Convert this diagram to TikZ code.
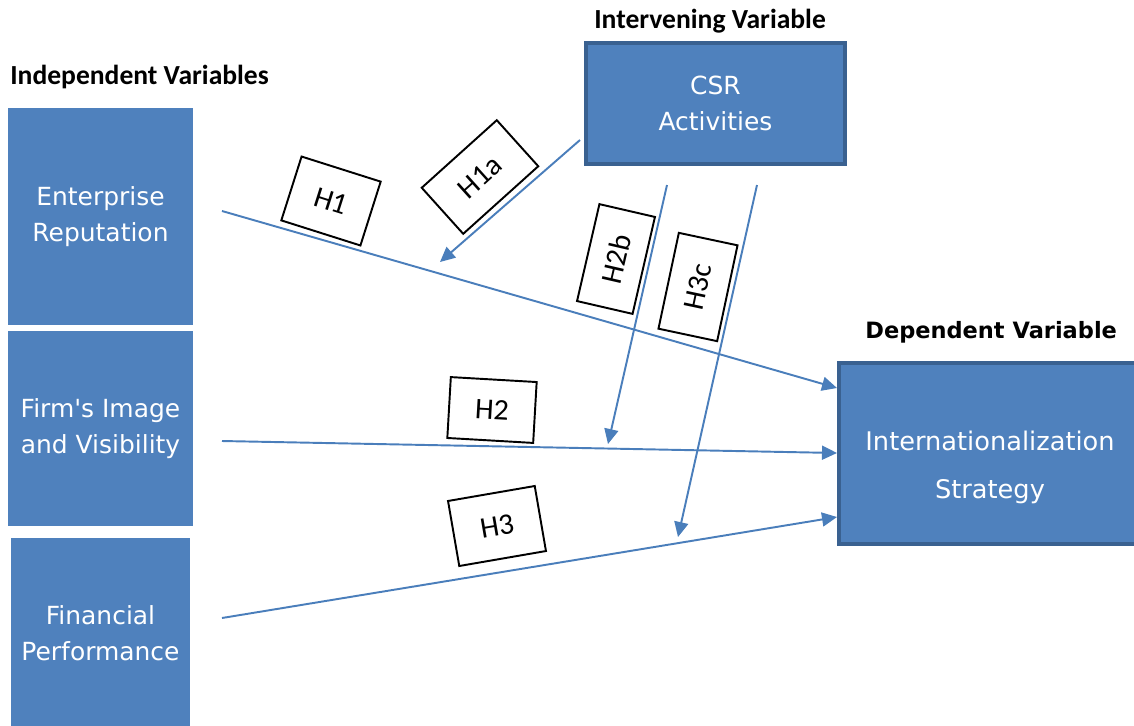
\documentclass[tikz,border=0pt]{standalone}
\usepackage{fontspec}
\newfontfamily\boxfont{DejaVu Sans}
\newfontfamily\calfont{Carlito}
\usetikzlibrary{arrows.meta}
\definecolor{boxblue}{HTML}{4F81BD}
\definecolor{rimblue}{HTML}{3A6190}
\definecolor{lineblue}{HTML}{4A7EBB}

\tikzset{
  varbox/.style={fill=boxblue,text=white,align=center,inner sep=0pt,font=\boxfont\fontsize{14.2}{20.5}\selectfont},
  rimbox/.style={varbox,draw=rimblue,line width=2.2pt},
  hypbox/.style={draw=black,line width=1.1pt,fill=white,inner sep=0pt,font=\calfont\fontsize{17}{20}\selectfont},
  link/.style={draw=lineblue,line width=1.1pt,-{Triangle[length=0.3cm,width=0.28cm]}}
}

\begin{document}
\begin{tikzpicture}[x=0.02cm,y=-0.02cm]
\useasboundingbox (0,0) rectangle (1134,725);
\clip (0,0) rectangle (1134,725);

\begin{scope}[every node/.style={anchor=base west,inner sep=0pt}]
% headings
\node (indephead) at (10,84) {\calfont\bfseries\fontsize{15.7}{18}\selectfont Independent Variables};
\node (intervhead) at (594,28) {\calfont\bfseries\fontsize{15.7}{18}\selectfont Intervening Variable};
\node (dephead) at (865,338) {\boxfont\bfseries\fontsize{12.8}{15}\selectfont Dependent Variable};
\end{scope}

% independent variables
\node[varbox,minimum width=3.7cm,minimum height=4.34cm] (reputation) at (100.5,216.5) {Enterprise\\Reputation};
\node[varbox,minimum width=3.7cm,minimum height=3.9cm] (image) at (100.5,428.5) {Firm's Image\\and Visibility};
\node[varbox,minimum width=3.59cm,minimum height=3.8cm] (financial) at (100.5,633) {Financial\\Performance};
% intervening variable
\node[rimbox,minimum width=5.18cm,minimum height=2.42cm] (csr) at (715.5,103.5) {CSR\\Activities};
% dependent variable
\node[rimbox,minimum width=6.04cm,minimum height=3.62cm] (intl) at (990,453.5) {};
\node[align=center,text=white,font=\boxfont\fontsize{14.6}{27.3}\selectfont] (intltext) at (990,467) {Internationalization\\Strategy};

% connectors
\coordinate (repout) at (222,211);
\coordinate (imgout) at (222,441);
\coordinate (finout) at (222,618);
\coordinate (csrout1) at (580,140);
\coordinate (csrout2) at (667,185);
\coordinate (csrout3) at (757,185);
\coordinate (intlin1) at (837,388);
\coordinate (intlin2) at (837,453);
\coordinate (intlin3) at (837,517);
\coordinate (h1atip) at (440,262);
\coordinate (h2btip) at (608,444);
\coordinate (h3ctip) at (678,537);

\draw[link] (repout) -- (intlin1);
\draw[link] (imgout) -- (intlin2);
\draw[link] (finout) -- (intlin3);
\draw[link] (csrout1) -- (h1atip);
\draw[link] (csrout2) -- (h2btip);
\draw[link] (csrout3) -- (h3ctip);

% hypotheses
\node[hypbox,minimum width=1.66cm,minimum height=1.34cm,rotate=-17.6] (h1) at (331,201) {H1};
\node[hypbox,minimum width=2.02cm,minimum height=1.24cm,rotate=42] (h1a) at (480,177) {H1a};
\node[hypbox,minimum width=1.99cm,minimum height=1.14cm,rotate=77] (h2b) at (616,259) {H2b};
\node[hypbox,minimum width=1.96cm,minimum height=1.2cm,rotate=78] (h3c) at (698,287) {H3c};
\node[hypbox,minimum width=1.72cm,minimum height=1.22cm,rotate=-3.3] (h2) at (492,410) {H2};
\node[hypbox,minimum width=1.76cm,minimum height=1.32cm,rotate=9.8] (h3) at (497,526) {H3};

\end{tikzpicture}
\end{document}
